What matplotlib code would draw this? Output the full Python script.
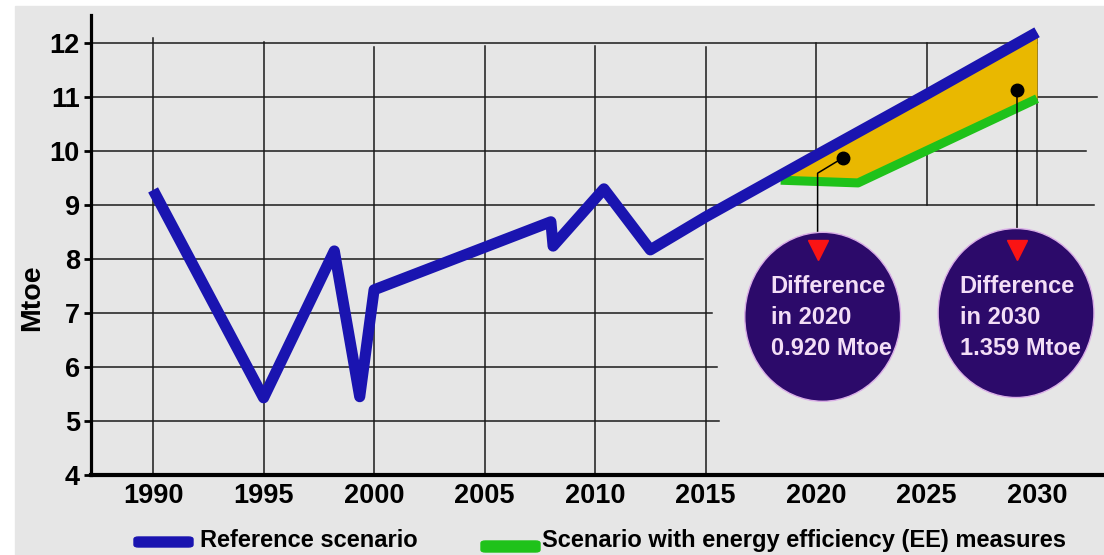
import numpy as np
import matplotlib.pyplot as plt
from matplotlib.patches import Ellipse, Rectangle, FancyBboxPatch

plt.rcParams['font.family'] = ['Liberation Sans', 'DejaVu Sans']
plt.rcParams['font.weight'] = 'bold'

# Reference scenario (Mtoe)
ref_years = [1990, 1995, 1998.2, 1999.35, 2000, 2008, 2008.1, 2010.4, 2012.5, 2015, 2020, 2025, 2030]
ref_values = [9.28, 5.43, 8.15, 5.45, 7.43, 8.69, 8.24, 9.3, 8.17, 8.78, 9.92, 11.05, 12.2]

# Scenario with energy efficiency measures (Mtoe)
ee_years = [2018.4, 2021.9, 2030]
ee_values = [9.46, 9.41, 10.97]

x_ticks = [1990, 1995, 2000, 2005, 2010, 2015, 2020, 2025, 2030]
y_ticks = [4, 5, 6, 7, 8, 9, 10, 11, 12]
legend_labels = ['Reference scenario', 'Scenario with energy efficiency (EE) measures']
diff_labels = ['Difference\nin 2020\n0.920 Mtoe', 'Difference\nin 2030\n1.359 Mtoe']

# colours
blue = '#1a14b0'
green = '#1fc21a'
gold = '#e9b800'
purple = '#2c0a6a'
txt_col = '#f3def6'
red = '#fa1414'
grid_col = '#1a1a1a'

W, H = 1104, 555
fig = plt.figure(figsize=(W / 100, H / 100), dpi=100)
fig.patch.set_facecolor('white')
fig.patches.append(Rectangle((15 / W, 0), 1, (H - 6) / H, transform=fig.transFigure,
                             color='#e6e6e6', zorder=-10))

ax = fig.add_axes([91 / W, 80 / H, (W - 91) / W, 460 / H])
ax.set_facecolor('none')
ax.set_xlim(1987.19, 2033.03)
ax.set_ylim(4, 12.52)

# hand drawn grid: horizontal lines (y, right end) and vertical lines (x, bottom, top)
h_lines = [(12, 2030), (11, 2032.7), (10, 2032.2), (9, 2032.6),
           (8, 2014.9), (7, 2015.3), (6, 2015.5), (5, 2015.6)]
v_lines = [(1990, 4, 12.1), (1995, 4, 12.02), (2000, 4, 11.93), (2005, 4, 11.95),
           (2010, 4, 11.95), (2015, 4, 11.93), (2020, 9.6, 12.0), (2025, 9, 12.0),
           (2030, 9, 12.15)]
for y, xe in h_lines:
    ax.plot([1987.19, xe], [y, y], color=grid_col, lw=1.1, zorder=1)
for x, yb, yt in v_lines:
    ax.plot([x, x], [yb, yt], color=grid_col, lw=1.1, zorder=1)

# savings area between both scenarios
xs = np.union1d(ee_years, [x for x in ref_years if ee_years[0] <= x <= ee_years[-1]])
ax.fill_between(xs, np.interp(xs, ee_years, ee_values), np.interp(xs, ref_years, ref_values),
                color=gold, lw=0, zorder=2)

ax.plot(ee_years, ee_values, color=green, lw=6.5, solid_joinstyle='round',
        solid_capstyle='butt', zorder=3)
ax.plot(ref_years, ref_values, color=blue, lw=8, solid_joinstyle='round',
        solid_capstyle='butt', zorder=4)

# difference callouts
ax.plot([2021.2, 2020.07, 2020.07], [9.87, 9.59, 8.3], color='black', lw=1.1, zorder=5)
ax.plot([2029.1, 2029.1], [11.13, 8.3], color='black', lw=1.1, zorder=5)
ax.plot([2021.2, 2029.1], [9.87, 11.13], 'o', color='black', ms=9, zorder=6)

circles = [(2020.3, 6.93), (2029.05, 7.0)]
tri_x = [2020.07, 2029.1]
text_x = [2017.95, 2026.5]
for (cx, cy), tx, lab, trx in zip(circles, text_x, diff_labels, tri_x):
    ax.add_patch(Ellipse((cx, cy), 7.05, 3.13, facecolor=purple, edgecolor='#d9aee6',
                         lw=1, zorder=5, clip_on=False))
    ax.plot([trx], [8.17], 'v', color=red, ms=15, zorder=6, clip_on=False)
    ax.text(tx, 6.92, lab, color=txt_col, fontsize=17, fontweight='bold',
            ha='left', va='center', linespacing=1.45, zorder=7)

for s in ['top', 'right']:
    ax.spines[s].set_visible(False)
ax.spines['left'].set_linewidth(2.3)
ax.spines['bottom'].set_linewidth(3)

ax.set_xticks(x_ticks)
ax.set_yticks(y_ticks)
ax.tick_params(axis='x', length=0, pad=6, labelsize=19.5)
ax.tick_params(axis='y', length=5, width=2, pad=3, labelsize=19.5)
for lbl in ax.get_xticklabels() + ax.get_yticklabels():
    lbl.set_fontweight('bold')

fig.text(32 / W, 1 - 298 / H, 'Mtoe', rotation=90, fontsize=20.5, fontweight='bold',
         ha='center', va='center')

# legend
fig.patches.append(FancyBboxPatch((134 / W, 8 / H), 59 / W, 10 / H,
                                  boxstyle='round,pad=0,rounding_size=0.004',
                                  transform=fig.transFigure, color=blue))
fig.patches.append(FancyBboxPatch((481 / W, 3 / H), 59 / W, 11 / H,
                                  boxstyle='round,pad=0,rounding_size=0.004',
                                  transform=fig.transFigure, color=green))
fig.text(200 / W, 8 / H, legend_labels[0], fontsize=17, fontweight='bold', va='baseline')
fig.text(542 / W, 8 / H, legend_labels[1], fontsize=17, fontweight='bold', va='baseline')

fig.savefig('out.png', dpi=100)
